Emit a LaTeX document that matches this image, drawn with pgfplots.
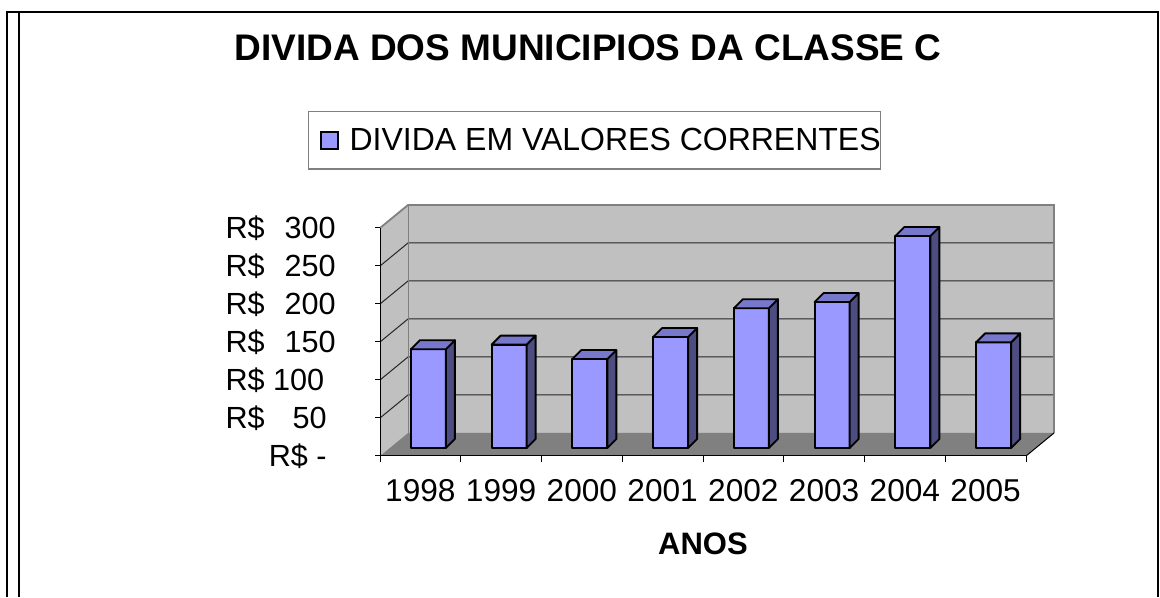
\documentclass[border=0pt]{standalone}
\usepackage{pgfplots}
\pgfplotsset{compat=1.18}
\usepackage{fontspec}
\setmainfont{Liberation Sans}
\definecolor{barfront}{HTML}{9999FF}
\definecolor{bartop}{HTML}{7777CC}
\definecolor{barside}{HTML}{4D4D80}
\definecolor{wallc}{HTML}{C0C0C0}
\definecolor{floorc}{HTML}{808080}
\begin{document}
\begin{tikzpicture}
\path (0,0) rectangle (580pt,298.5pt);
\draw[line width=1pt] (3.5pt,0) -- (3.5pt,292.5pt) -- (579pt,292.5pt) -- (579pt,0);
\draw[line width=1pt] (9.5pt,0) -- (9.5pt,292.5pt);
\begin{axis}[
  at={(190pt,70.5pt)}, anchor=south west,
  scale only axis, width=323pt, height=114pt,
  xmin=-0.5, xmax=7.5, ymin=0, ymax=300,
  clip=false, axis on top,
  axis x line*=bottom, axis y line*=left,
  axis line style={line width=0.5pt, -, black},
  xtick={0,...,7},
  xticklabels={1998,1999,2000,2001,2002,2003,2004,2005},
  major x tick style={draw=none},
  minor xtick={-0.5,0.5,...,7.5},
  minor tick length=3pt,
  minor x tick style={line width=0.5pt, black},
  ytick={0,50,...,300},
  yticklabels={\makebox[55pt][r]{R\$ -\hspace{4.5pt}},
               \makebox[55pt]{R\$\hfill 50\hspace{4.5pt}},
               \makebox[55pt][l]{R\$ 100},
               \makebox[55pt]{R\$\hfill 150},
               \makebox[55pt]{R\$\hfill 200},
               \makebox[55pt]{R\$\hfill 250},
               \makebox[55pt]{R\$\hfill 300}},
  major tick length=2.5pt,
  tick align=outside,
  major y tick style={line width=0.5pt, black},
  yticklabel style={font=\fontsize{15.3}{18}\selectfont, anchor=base east, inner sep=0pt, xshift=-19.5pt, yshift=-5.4pt},
  xticklabel style={font=\fontsize{15.8}{18}\selectfont, anchor=base, inner sep=0pt, yshift=-20.5pt},
  xlabel={ANOS},
  xlabel style={font=\fontsize{15.5}{18}\selectfont\bfseries, at={(axis description cs:0.5,0)}, anchor=base, inner sep=0pt, yshift=-49.5pt},
  title={DIVIDA DOS MUNICIPIOS DA CLASSE C},
  title style={font=\fontsize{18.5}{22}\selectfont\bfseries, at={(axis description cs:0.322,1.684)}, anchor=base, inner sep=0pt},
  legend style={at={(axis description cs:0.332,1.384)}, anchor=center,
    draw=floorc, line width=0.7pt, font=\fontsize{16}{19}\selectfont,
    inner xsep=0pt, inner ysep=8pt, nodes={inner sep=0pt}},
]
% side wall
\fill[wallc] (axis cs:-0.5,0) -- (axis cs:-0.5,300) -- ([shift={(14pt,11.5pt)}]axis cs:-0.5,300) -- ([shift={(14pt,11.5pt)}]axis cs:-0.5,0) -- cycle;
% back wall
\fill[wallc] ([shift={(14pt,11.5pt)}]axis cs:-0.5,0) rectangle ([shift={(14pt,11.5pt)}]axis cs:7.5,300);
% gridlines
\draw[line width=0.5pt, black!85]
  (axis cs:-0.5,50) -- ([shift={(14pt,11.5pt)}]axis cs:-0.5,50) -- ([shift={(14pt,11.5pt)}]axis cs:7.5,50)
  (axis cs:-0.5,100) -- ([shift={(14pt,11.5pt)}]axis cs:-0.5,100) -- ([shift={(14pt,11.5pt)}]axis cs:7.5,100)
  (axis cs:-0.5,150) -- ([shift={(14pt,11.5pt)}]axis cs:-0.5,150) -- ([shift={(14pt,11.5pt)}]axis cs:7.5,150)
  (axis cs:-0.5,200) -- ([shift={(14pt,11.5pt)}]axis cs:-0.5,200) -- ([shift={(14pt,11.5pt)}]axis cs:7.5,200)
  (axis cs:-0.5,250) -- ([shift={(14pt,11.5pt)}]axis cs:-0.5,250) -- ([shift={(14pt,11.5pt)}]axis cs:7.5,250);
% wall borders
\draw[line width=0.9pt, floorc, line join=miter]
  (axis cs:-0.5,300) -- ([shift={(14pt,11.5pt)}]axis cs:-0.5,300) -- ([shift={(14pt,11.5pt)}]axis cs:7.5,300) -- ([shift={(14pt,11.5pt)}]axis cs:7.5,0);
\draw[line width=0.5pt, floorc] ([shift={(14pt,11.5pt)}]axis cs:-0.5,300) -- ([shift={(14pt,11.5pt)}]axis cs:-0.5,0);
% floor
\fill[floorc] (axis cs:-0.5,0) -- (axis cs:7.5,0) -- ([shift={(14pt,11.5pt)}]axis cs:7.5,0) -- ([shift={(14pt,11.5pt)}]axis cs:-0.5,0) -- cycle;
\draw[line width=0.5pt, black] (axis cs:7.5,0) -- ([shift={(14pt,11.5pt)}]axis cs:7.5,0);
% bars
\addplot[scatter, only marks, mark=text, text mark={},
  visualization depends on={rawy \as \rawy},
  scatter/@pre marker code/.code={%
    \pgfmathsetmacro\Bf{4-\rawy*0.38}%
    \pgfmathsetmacro\Bs{8.5-\rawy*0.38}%
    \filldraw[barfront, draw=black, line width=0.9pt, line join=round] (-4.75pt,\Bf pt) rectangle (12.75pt,4pt);
    \filldraw[barside, draw=black, line width=0.9pt, line join=round] (12.75pt,4pt) -- (17.25pt,8.5pt) -- (17.25pt,\Bs pt) -- (12.75pt,\Bf pt) -- cycle;
    \filldraw[bartop, draw=black, line width=0.9pt, line join=round] (-4.75pt,4pt) -- (12.75pt,4pt) -- (17.25pt,8.5pt) -- (-0.25pt,8.5pt) -- cycle;
  },
  scatter/@post marker code/.code={},
  legend image code/.code={\path (0pt,0pt) (20pt,0pt); \draw[fill=barfront, draw=black, line width=0.8pt] (6pt,-4.25pt) rectangle (14.5pt,4.25pt);},
] coordinates {
  (0,130) (1,136) (2,117) (3,146) (4,184) (5,192) (6,279) (7,139)
};
\addlegendentry{DIVIDA EM VALORES CORRENTES}
\end{axis}
\end{tikzpicture}
\end{document}
